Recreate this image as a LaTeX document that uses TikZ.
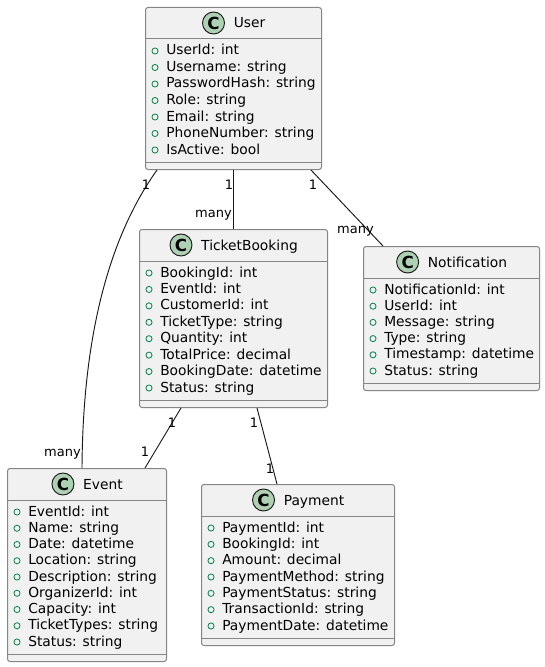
\documentclass[tikz,border=0pt]{standalone}
\usepackage{fontspec}
\setmainfont{DejaVu Sans}
\usetikzlibrary{calc}
\definecolor{boxfill}{HTML}{F1F1F1}
\definecolor{boxline}{HTML}{858585}
\definecolor{linkline}{HTML}{181818}
\definecolor{badgefill}{HTML}{ADD1B2}
\definecolor{visgreen}{HTML}{038048}
\tikzset{
  classbox/.style={draw=boxline, line width=0.75pt, fill=boxfill, rounded corners=1.9pt, inner sep=0pt, rectangle},
  sepline/.style={draw=boxline, line width=0.75pt},
  titletext/.style={inner sep=0pt, font=\fontsize{10.35pt}{12pt}\selectfont},
  attrtext/.style={inner sep=0pt, font=\fontsize{10.35pt}{12pt}\selectfont},
  cbadge/.style={circle, draw=linkline, line width=0.7pt, fill=badgefill, minimum size=16.5pt, inner sep=0pt, font=\fontsize{12.5pt}{13pt}\selectfont\bfseries},
  viscirc/.style={circle, draw=visgreen, line width=0.6pt, minimum size=4.6pt, inner sep=0pt},
  conn/.style={draw=linkline, line width=0.7pt},
  multlabel/.style={inner sep=0pt, font=\fontsize{9.75pt}{11pt}\selectfont},
}
% #1 id, #2 left, #3 right, #4 top, #5 bottom, #6 title, #7 attributes
\newcommand\umlclass[7]{%
  \pgfmathsetmacro\cw{(#3-#2)*0.75}%
  \pgfmathsetmacro\ch{(#5-#4)*0.75}%
  \node[classbox, minimum width=\cw pt, minimum height=\ch pt, anchor=north west] (#1) at (#2,#4) {};
  \draw[sepline] ($(#1.north west)+(0,32)$) -- ($(#1.north east)+(0,32)$);
  \draw[sepline] ($(#1.south west)+(0,-8)$) -- ($(#1.south east)+(0,-8)$);
  \node[titletext, anchor=base] (#1-t) at ($(#1.north)+(16,21)$) {#6};
  \node[cbadge] (#1-c) at ($(#1-t.west |- #1.north)+(-20,16)$) {C};
  \foreach \a [count=\i] in {#7} {\xdef\nrows{\i}}%
  \pgfmathsetmacro\rsp{((#5-20)-(#4+43))/(\nrows-1)}%
  \foreach \a [count=\i] in {#7} {%
    \pgfmathsetmacro\yc{#4+43+(\i-1)*\rsp}%
    \node[viscirc] (#1-v\i) at ({#2+10},{\yc+1}) {};
    \node[attrtext, anchor=base west] (#1-a\i) at ({#2+21},{\yc+5}) {\a};
  }
}
\begin{document}
\begin{tikzpicture}[x=0.75pt, y=-0.75pt]
\fill[white] (0,0) rectangle (545,667);
\useasboundingbox (0,0) rectangle (545,667);

\umlclass{User}{145}{321}{7}{169}{User}{UserId: int,Username: string,PasswordHash: string,Role: string,Email: string,PhoneNumber: string,IsActive: bool}
\umlclass{TicketBooking}{139}{327}{229}{407}{TicketBooking}{BookingId: int,EventId: int,CustomerId: int,TicketType: string,Quantity: int,TotalPrice: decimal,BookingDate: datetime,Status: string}
\umlclass{Notification}{363}{539}{246}{390}{Notification}{NotificationId: int,UserId: int,Message: string,Type: string,Timestamp: datetime,Status: string}
\umlclass{Event}{7}{166}{468}{661}{Event}{EventId: int,Name: string,Date: datetime,Location: string,Description: string,OrganizerId: int,Capacity: int,TicketTypes: string,Status: string}
\umlclass{Payment}{201}{394}{484}{645}{Payment}{PaymentId: int,BookingId: int,Amount: decimal,PaymentMethod: string,PaymentStatus: string,TransactionId: string,PaymentDate: datetime}

% connectors
\draw[conn] ($(User.south west)+(12,0)$) .. controls (125,215) and (83,300) .. ($(Event.north west)+(75,0)$);
\draw[conn] (User.south) -- (TicketBooking.north);
\draw[conn] ($(User.south east)+(-11,0)$) -- ($(Notification.north west)+(20,0)$);
\draw[conn] ($(TicketBooking.south west)+(42,0)$) -- ($(Event.north west)+(138,0)$);
\draw[conn] ($(TicketBooking.south west)+(118,0)$) -- ($(Payment.north west)+(76,0)$);

% multiplicities
\node[multlabel, anchor=base] (lUE1) at (146,189) {1};
\node[multlabel, anchor=base east] (lUE2) at (81,456) {many};
\node[multlabel, anchor=base] (lUT1) at (229,189) {1};
\node[multlabel, anchor=base east] (lUT2) at (232,217) {many};
\node[multlabel, anchor=base] (lUN1) at (313,189) {1};
\node[multlabel, anchor=base east] (lUN2) at (374,233) {many};
\node[multlabel, anchor=base] (lTE1) at (172,427) {1};
\node[multlabel, anchor=base] (lTE2) at (145,456) {1};
\node[multlabel, anchor=base] (lTP1) at (254,427) {1};
\node[multlabel, anchor=base] (lTP2) at (270,473) {1};
\end{tikzpicture}
\end{document}
